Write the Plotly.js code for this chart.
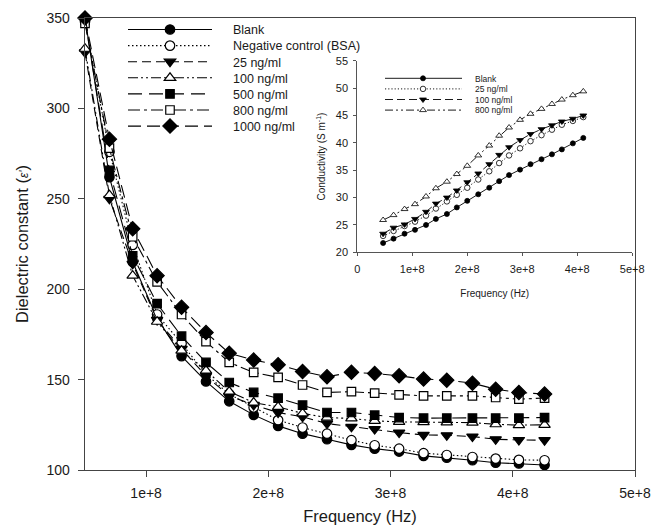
<!DOCTYPE html>
<html><head><meta charset="utf-8">
<script src="https://cdn.plot.ly/plotly-3.0.1.min.js"></script>
<style>html,body{margin:0;padding:0;background:#fff;}#chart{width:654px;height:527px;}</style>
</head><body><div id="chart"></div>
<script>
// ---- Main chart data (frequency in Hz, dielectric constant) ----
const freqMain = [50e6, 70e6, 89e6, 109e6, 129e6, 149e6, 168e6, 188e6, 208e6, 228e6, 248e6, 268e6, 287e6, 307e6, 327e6, 346e6, 367e6, 386e6, 405e6, 426e6];
const mainNames = ['Blank', 'Negative control (BSA)', '25 ng/ml', '100 ng/ml', '500 ng/ml', '800 ng/ml', '1000 ng/ml'];
const epsBlank = [350, 262, 215, 184, 163, 149, 138, 130.5, 124.4, 120.1, 117, 113.9, 111.8, 110.2, 107.8, 106.8, 105.4, 104, 103.6, 102.8];
const epsBSA   = [348, 276, 224.5, 186, 170, 153, 142, 134.6, 127.6, 123.5, 120.1, 116.5, 113.7, 111.8, 109.3, 108.3, 107.2, 106.3, 105.6, 105.4];
const eps25    = [331, 250, 214, 183, 167, 152, 141, 136, 131.8, 129.4, 125.7, 123.9, 122.6, 120.7, 119.4, 119.2, 118.5, 117, 116.6, 116.5];
const eps100   = [333, 252, 207.5, 182, 166, 155, 143.4, 137.3, 134.9, 131.3, 129, 128.5, 127.2, 126.6, 126.5, 126.3, 126.2, 125.3, 124.8, 125];
const eps500   = [349, 265.7, 218.5, 192, 174, 159.5, 148.4, 142.9, 139.7, 135.9, 131.8, 131.8, 130.3, 129, 128.7, 128.7, 128.7, 128.7, 128.7, 129];
const eps800   = [347, 278, 229, 204, 186, 171, 159.5, 154, 151.2, 147, 142.9, 143.3, 142.5, 141.6, 141, 141, 141, 140.1, 139.2, 139.8];
const eps1000  = [350, 283, 233.4, 207.5, 190, 176, 164.6, 160.8, 158.2, 154.5, 151.6, 154, 153.4, 152.1, 150.3, 149.7, 148, 144.7, 142.9, 142];

// ---- Inset data (frequency in Hz, conductivity S/m) ----
const freqInset = [47e6, 66e6, 86e6, 105e6, 125e6, 143e6, 163e6, 181e6, 200e6, 220e6, 240e6, 258e6, 276e6, 296e6, 315e6, 335e6, 354e6, 372e6, 392e6, 411e6];
const insetNames = ['Blank', '25 ng/ml', '100 ng/ml', '800 ng/ml'];
const condBlank = [21.7, 22.5, 23.4, 24.1, 25.0, 26.1, 27.0, 28.2, 29.4, 30.6, 31.8, 33.0, 34.1, 35.1, 36.1, 37.0, 37.9, 38.8, 39.9, 40.9];
const cond25    = [23.0, 23.9, 24.8, 25.6, 26.7, 28.0, 29.3, 30.5, 31.8, 33.3, 34.8, 36.3, 37.7, 39.0, 40.3, 41.4, 42.4, 43.3, 44.0, 44.7];
const cond100   = [23.4, 24.5, 25.1, 26.1, 27.4, 28.9, 30.0, 31.3, 32.8, 34.4, 36.1, 37.8, 39.2, 40.5, 41.6, 42.5, 43.2, 43.9, 44.4, 45.0];
const cond800   = [25.9, 26.8, 27.9, 28.8, 30.2, 31.7, 32.9, 34.3, 35.8, 37.7, 39.5, 41.3, 42.8, 44.2, 45.3, 46.2, 47.1, 47.9, 48.7, 49.4];

const mainTickVals = [1e8, 2e8, 3e8, 4e8, 5e8];
const mainTickText = ['1e+8', '2e+8', '3e+8', '4e+8', '5e+8'];
const insetTickVals = [0, 1e8, 2e8, 3e8, 4e8, 5e8];
const insetTickText = ['0', '1e+8', '2e+8', '3e+8', '4e+8', '5e+8'];

const FONT = 'Arial, "Liberation Sans", sans-serif';
const INK = '#1a1a1a';

function mainTrace(name, y, dash, symbol, filled, size) {
  return {
    x: freqMain, y: y, name: name, type: 'scatter', mode: 'lines+markers',
    xaxis: 'x', yaxis: 'y', legend: 'legend', cliponaxis: false,
    line: {color: '#000', width: 1.1, dash: dash},
    marker: {symbol: symbol, size: size, color: filled ? '#000' : '#fff', line: {color: '#000', width: 1.2}}
  };
}
function insetTrace(name, y, dash, symbol, filled, size) {
  return {
    x: freqInset, y: y, name: name, type: 'scatter', mode: 'lines+markers',
    xaxis: 'x2', yaxis: 'y2', legend: 'legend2', cliponaxis: false,
    line: {color: '#000', width: 0.9, dash: dash},
    marker: {symbol: symbol, size: size, color: filled ? '#000' : '#fff', line: {color: '#000', width: 0.8}}
  };
}

const data = [
  mainTrace(mainNames[0], epsBlank, 'solid', 'circle', true, 9.5),
  mainTrace(mainNames[1], epsBSA, '1.5px,2.5px', 'circle', false, 9.5),
  mainTrace(mainNames[2], eps25, '9px,5px', 'triangle-down', true, 10),
  mainTrace(mainNames[3], eps100, '10px,3px,2px,3px,2px,3px', 'triangle-up', false, 10),
  mainTrace(mainNames[4], eps500, '14px,7px', 'square', true, 8.5),
  mainTrace(mainNames[5], eps800, '12px,4px,3px,4px', 'square', false, 8.5),
  mainTrace(mainNames[6], eps1000, '13px,6px', 'diamond', true, 11),
  insetTrace(insetNames[0], condBlank, 'solid', 'circle', true, 5),
  insetTrace(insetNames[1], cond25, '1.2px,2px', 'circle', false, 5.5),
  insetTrace(insetNames[2], cond100, '8px,4px', 'triangle-down', true, 6),
  insetTrace(insetNames[3], cond800, '8px,3px,2px,3px,2px,3px', 'triangle-up', false, 6)
];

const layout = {
  width: 654, height: 527,
  margin: {l: 85, r: 19, t: 18, b: 57},
  paper_bgcolor: '#fff', plot_bgcolor: 'rgba(0,0,0,0)',
  font: {family: FONT, color: INK},
  showlegend: true,
  xaxis: {
    domain: [0, 1], range: [5e7, 5e8], anchor: 'y',
    showline: true, linecolor: '#444', linewidth: 1.3, mirror: true,
    showgrid: false, zeroline: false,
    ticks: 'outside', ticklen: 6, tickwidth: 1, tickcolor: '#444',
    tickvals: mainTickVals, ticktext: mainTickText, ticklabelstandoff: 4,
    tickfont: {size: 14, family: FONT, color: INK},
    title: {text: 'Frequency (Hz)', font: {size: 16.5, family: FONT, color: INK}, standoff: 10}
  },
  yaxis: {
    domain: [0, 1], range: [100, 350], anchor: 'x',
    showline: true, linecolor: '#444', linewidth: 1.3, mirror: true,
    showgrid: false, zeroline: false,
    ticks: 'outside', ticklen: 6, tickwidth: 1, tickcolor: '#444',
    tickvals: [100, 150, 200, 250, 300, 350], ticklabelstandoff: 5,
    tickfont: {size: 14, family: FONT, color: INK},
    title: {text: 'Dielectric constant (<span style="font-size:12px"><i>ε\'</i></span>)', font: {size: 16.5, family: FONT, color: INK}, standoff: 13}
  },
  xaxis2: {
    domain: [0.495, 0.995], range: [0, 5e8], anchor: 'y2',
    showline: true, linecolor: '#555', linewidth: 1, mirror: false,
    showgrid: false, zeroline: false,
    ticks: 'outside', ticklen: 3, tickwidth: 1, tickcolor: '#555',
    tickvals: insetTickVals, ticktext: insetTickText, ticklabelstandoff: 3,
    tickfont: {size: 11, family: FONT, color: INK},
    title: {text: 'Frequency (Hz)', font: {size: 10, family: FONT, color: INK}, standoff: 16}
  },
  yaxis2: {
    domain: [0.4816, 0.9055], range: [20, 55], anchor: 'x2',
    showline: true, linecolor: '#555', linewidth: 1, mirror: false,
    showgrid: false, zeroline: false,
    ticks: 'outside', ticklen: 3, tickwidth: 1, tickcolor: '#555',
    tickvals: [20, 25, 30, 35, 40, 45, 50, 55], ticklabelstandoff: 3,
    tickfont: {size: 11, family: FONT, color: INK},
    title: {text: 'Conductivity (S m<sup>-1</sup>)', font: {size: 10, family: FONT, color: INK}, standoff: 8}
  },
  legend: {
    x: 0.04, y: 1.0, xanchor: 'left', yanchor: 'top',
    bgcolor: 'rgba(0,0,0,0)', borderwidth: 0, itemwidth: 100,
    font: {size: 12.5, family: FONT, color: INK}, traceorder: 'normal'
  },
  legend2: {
    x: 0.51, y: 0.90, xanchor: 'left', yanchor: 'top',
    bgcolor: 'rgba(0,0,0,0)', borderwidth: 0, itemwidth: 80,
    font: {size: 8.5, family: FONT, color: INK}, traceorder: 'normal'
  }
};

// Legend key geometry (page pixels): line start/end, marker centre, text start, first row y, row step
const legendGeom = {
  legend:  {lineStart: 128, lineEnd: 212, marker: 170, text: 233, row0: 29.5, step: 16.1},
  legend2: {lineStart: 385, lineEnd: 462, marker: 423, text: 482, row0: 78.3, step: 10.6}
};

function arrangeLegends() {
  Object.keys(legendGeom).forEach(function (id) {
    const g = document.querySelector('#chart g.' + id);
    if (!g) return;
    const geo = legendGeom[id];
    g.querySelectorAll('[clip-path]').forEach(function (el) { el.removeAttribute('clip-path'); });
    g.querySelectorAll('g.traces').forEach(function (tr, i) {
      const ctm = tr.getScreenCTM();
      const base = tr.transform.baseVal.consolidate();
      const ex = base ? base.matrix.e : 0, fy = base ? base.matrix.f : 0;
      const dx = geo.lineStart - ctm.e;
      const dy = (geo.row0 + i * geo.step) - ctm.f;
      tr.setAttribute('transform', 'translate(' + (ex + dx) + ',' + (fy + dy) + ')');
      tr.querySelectorAll('path.js-line').forEach(function (p) {
        p.setAttribute('d', 'M0,0h' + (geo.lineEnd - geo.lineStart));
      });
      tr.querySelectorAll('path.scatterpts').forEach(function (p) {
        p.setAttribute('transform', 'translate(' + (geo.marker - geo.lineStart) + ',0)');
      });
      const txt = tr.querySelector('text.legendtext');
      if (txt) txt.setAttribute('x', geo.text - geo.lineStart);
      const tog = tr.querySelector('rect.legendtoggle');
      if (tog) tog.setAttribute('pointer-events', 'none');
    });
  });
}

Plotly.newPlot('chart', data, layout, {staticPlot: true, displayModeBar: false}).then(arrangeLegends);
</script>
</body></html>
